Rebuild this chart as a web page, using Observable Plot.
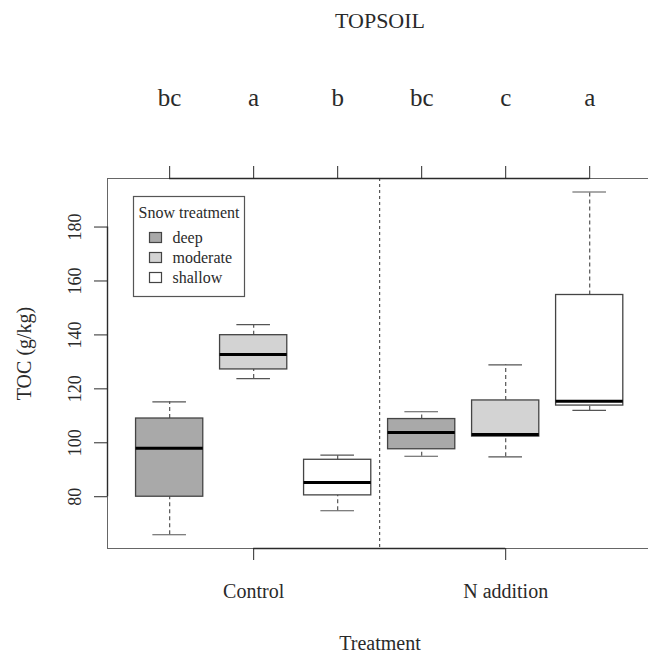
<!DOCTYPE html>
<html>
<head>
<meta charset="utf-8">
<script src="https://cdn.jsdelivr.net/npm/d3@7"></script>
<script src="https://cdn.jsdelivr.net/npm/@observablehq/plot@0.6"></script>
<style>
  html, body { margin: 0; padding: 0; background: #fff; }
  #chart { width: 648px; height: 653px; }
</style>
</head>
<body>
<div id="chart"></div>
<script>
// Total organic carbon in topsoil, by N treatment and snow depth
const treatments = ["Control", "N addition"];
const snowLevels = ["deep", "moderate", "shallow"];
const snowFill = ["#a9a9a9", "#d3d3d3", "#ffffff"];

// One box per treatment × snow combination
const boxTreatment = ["Control", "Control", "Control", "N addition", "N addition", "N addition"];
const boxSnow = ["deep", "moderate", "shallow", "deep", "moderate", "shallow"];
const whiskerLow = [65.9, 123.8, 74.8, 95.0, 94.8, 112.0];
const lowerQuartile = [80.0, 127.2, 80.5, 97.6, 102.3, 113.8];
const medianValue = [98.0, 132.7, 85.3, 103.8, 103.1, 115.4];
const upperQuartile = [109.0, 139.9, 93.7, 108.8, 115.7, 154.8];
const whiskerHigh = [115.2, 143.8, 95.4, 111.5, 128.9, 193.0];
const groupLetters = ["bc", "a", "b", "bc", "c", "a"];

const yTicks = [80, 100, 120, 140, 160, 180];

const boxes = boxSnow.map((level, i) => ({
  pos: treatments.indexOf(boxTreatment[i]) * snowLevels.length + snowLevels.indexOf(level) + 1,
  treatment: boxTreatment[i],
  depth: level,
  lo: whiskerLow[i],
  q1: lowerQuartile[i],
  med: medianValue[i],
  q3: upperQuartile[i],
  hi: whiskerHigh[i],
  letter: groupLetters[i]
}));

const positions = boxes.map(d => d.pos);
const treatmentCenters = treatments.map((t, k) => k * snowLevels.length + (snowLevels.length + 1) / 2);
const separator = snowLevels.length + 0.5;

const xDomain = [0.26, 6.70];
const yDomain = [60.8, 198];
const boxHalf = 0.4;
const capHalf = 0.2;

const axisInk = "#2a2a2a";
const frameInk = "#666";
const boxInk = "#444";

const chart = Plot.plot({
  width: 648,
  height: 653,
  marginLeft: 107,
  marginRight: 0,
  marginTop: 178,
  marginBottom: 105,
  x: { domain: xDomain, axis: null },
  y: { domain: yDomain, axis: null },
  color: { domain: snowLevels, range: snowFill },
  style: { fontFamily: "'Liberation Serif', 'DejaVu Serif', serif", background: "#fff", color: axisInk },
  marks: [
    // plot frame (open on the right)
    Plot.ruleY([yDomain[0], yDomain[1]], { stroke: frameInk, strokeWidth: 1 }),
    Plot.ruleX([xDomain[0]], { stroke: frameInk, strokeWidth: 1 }),
    // treatment separator
    Plot.ruleX([separator], { stroke: "#333", strokeDasharray: "3,3", strokeWidth: 1 }),
    // whiskers
    Plot.ruleX(boxes, { x: "pos", y1: "lo", y2: "q1", stroke: "#555", strokeDasharray: "4,3", strokeWidth: 1.2 }),
    Plot.ruleX(boxes, { x: "pos", y1: "q3", y2: "hi", stroke: "#555", strokeDasharray: "4,3", strokeWidth: 1.2 }),
    Plot.ruleY(boxes, { y: "lo", x1: d => d.pos - capHalf, x2: d => d.pos + capHalf, stroke: "#555", strokeWidth: 1.2 }),
    Plot.ruleY(boxes, { y: "hi", x1: d => d.pos - capHalf, x2: d => d.pos + capHalf, stroke: "#555", strokeWidth: 1.2 }),
    // boxes
    Plot.rect(boxes, {
      x1: d => d.pos - boxHalf, x2: d => d.pos + boxHalf,
      y1: "q1", y2: "q3", fill: "depth", stroke: boxInk, strokeWidth: 1.3
    }),
    // medians
    Plot.ruleY(boxes, { y: "med", x1: d => d.pos - boxHalf, x2: d => d.pos + boxHalf, stroke: "#000", strokeWidth: 3 }),
    // axis lines
    Plot.ruleY([yDomain[1]], { x1: positions[0], x2: positions[positions.length - 1], stroke: axisInk, strokeWidth: 1.4 }),
    Plot.ruleY([yDomain[0]], { x1: treatmentCenters[0], x2: treatmentCenters[1], stroke: axisInk, strokeWidth: 1.4 }),
    Plot.ruleX([xDomain[0]], { y1: yTicks[0], y2: yTicks[yTicks.length - 1], stroke: axisInk, strokeWidth: 1.4 }),
    // top axis: significance letters
    Plot.axisX({
      anchor: "top", ticks: positions, tickSize: 13, tickPadding: 60, label: null,
      tickFormat: p => boxes.find(d => d.pos === p).letter, fontSize: 25
    }),
    // bottom axis: treatments
    Plot.axisX({
      anchor: "bottom", ticks: treatmentCenters, tickSize: 12, tickPadding: 23, label: null,
      tickFormat: c => treatments[treatmentCenters.indexOf(c)], fontSize: 20
    }),
    // left axis
    Plot.axisY({ anchor: "left", ticks: yTicks, tickSize: 13, tickFormat: () => "", label: null }),
    Plot.text(yTicks, {
      y: d => d, text: d => String(d), frameAnchor: "left", dx: -27,
      rotate: -90, textAnchor: "middle", lineAnchor: "bottom", fontSize: 18, fill: axisInk
    }),
    // titles
    Plot.text(["TOC (g/kg)"], {
      text: d => d, frameAnchor: "left", dx: -77, dy: -10,
      rotate: -90, textAnchor: "middle", lineAnchor: "bottom", fontSize: 20, fill: axisInk
    }),
    Plot.text(["Treatment"], {
      text: d => d, frameAnchor: "bottom", dx: 2, dy: 101,
      lineAnchor: "bottom", fontSize: 20, fill: axisInk
    }),
    Plot.text(["TOPSOIL"], {
      text: d => d, frameAnchor: "top", dx: 2, dy: -151,
      lineAnchor: "bottom", fontSize: 22, fill: axisInk
    })
  ]
});

document.getElementById("chart").appendChild(chart);

// Legend box in the upper-left of the panel
const svg = d3.select(chart);
const legend = svg.append("g").attr("transform", "translate(133.5,196.5)");
legend.append("rect")
  .attr("width", 111).attr("height", 100)
  .attr("fill", "#fff").attr("stroke", "#555").attr("stroke-width", 1.2);
legend.append("text")
  .attr("x", 55.5).attr("y", 21.5)
  .attr("text-anchor", "middle")
  .attr("font-size", 16)
  .attr("fill", axisInk)
  .text("Snow treatment");
snowLevels.forEach((level, i) => {
  const cy = 41 + i * 20;
  legend.append("rect")
    .attr("x", 16).attr("y", cy - 5).attr("width", 12).attr("height", 10)
    .attr("fill", snowFill[i]).attr("stroke", boxInk).attr("stroke-width", 1.2);
  legend.append("text")
    .attr("x", 39).attr("y", cy + 5)
    .attr("text-anchor", "start")
    .attr("font-size", 16)
    .attr("fill", axisInk)
    .text(level);
});
</script>
</body>
</html>
